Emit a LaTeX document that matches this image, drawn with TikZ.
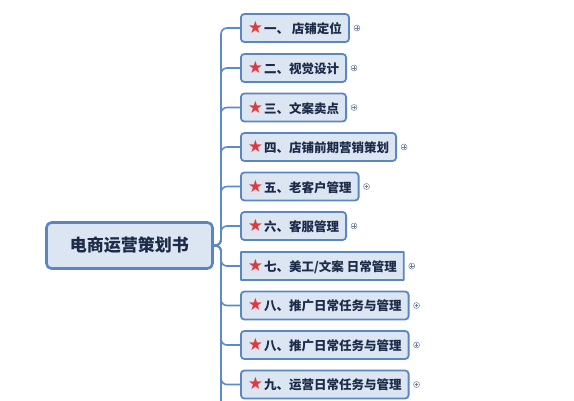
\documentclass[tikz,border=0pt]{standalone}
\usepackage{fontspec}
\newfontfamily\cjk{Noto Sans CJK SC}
\newfontfamily\dv{DejaVu Sans}
\definecolor{boxfill}{HTML}{DCE6F2}
\definecolor{boxline}{HTML}{5B87C0}
\definecolor{conncol}{HTML}{5B8CC8}
\definecolor{txtcol}{HTML}{1C2B48}
\definecolor{starred}{HTML}{E03A3E}
\definecolor{pluscol}{HTML}{6E7F99}
\tikzset{
  rootbox/.style={draw=boxline, line width=2.6pt, fill=boxfill, rounded corners=5pt,
    minimum width=166pt, minimum height=46pt, inner sep=0pt, text=txtcol,
    font=\cjk\bfseries\fontsize{17}{20}\selectfont},
  itembox/.style={draw=boxline, line width=1.8pt, fill=boxfill, rounded corners=3.5pt,
    minimum height=28pt, inner xsep=7pt, inner ysep=0pt, anchor=west, text=txtcol,
    font=\cjk\bfseries\fontsize{12.5}{14}\selectfont},
  conn/.style={draw=conncol, line width=1.6pt, rounded corners=6pt},
  plusmark/.style={circle, draw=pluscol, line width=0.5pt, minimum size=6pt, inner sep=0pt,
    path picture={\draw[pluscol, line width=0.5pt] ([xshift=-1.8pt]path picture bounding box.center) -- ([xshift=1.8pt]path picture bounding box.center)
      ([yshift=-1.8pt]path picture bounding box.center) -- ([yshift=1.8pt]path picture bounding box.center);}}
}
\newcommand{\st}{{\color{starred}\dv\fontsize{17}{14}\selectfont ★}\hspace{1pt}}
\begin{document}
\begin{tikzpicture}[x=1pt,y=-1pt]
\clip (0,0) rectangle (574,400);
\fill[white] (0,0) rectangle (574,400);
\node[rootbox] (root) at (129.5,245.5) {电商运营策划书};
\node[itembox] (b1) at (240,28) {\st 一、 店铺定位};
\node[itembox] (b2) at (240,68) {\st 二、视觉设计};
\node[itembox] (b3) at (240,107.5) {\st 三、文案卖点};
\node[itembox] (b4) at (240,147) {\st 四、店铺前期营销策划};
\node[itembox] (b5) at (240,186.5) {\st 五、老客户管理};
\node[itembox] (b6) at (240,226) {\st 六、客服管理};
\node[itembox, rounded corners=0.5pt] (b7) at (240,266) {\st 七、美工/文案 日常管理};
\node[itembox] (b8) at (240,305.5) {\st 八、推广日常任务与管理};
\node[itembox] (b9) at (240,345) {\st 八、推广日常任务与管理};
\node[itembox] (b10) at (240,384.5) {\st 九、运营日常任务与管理};
\coordinate (more) at (240,420);
\begin{scope}[on background layer/.try]
\foreach \b in {b1,b2,b3,b4,b5,b6,b7,b8,b9,b10,more}{
  \draw[conn] (root.east) -| ([xshift=-19pt]\b.west) -- (\b.west);
}
\end{scope}
\foreach \b in {b1,b2,b3,b4,b5,b6,b7,b8,b9,b10}{
  \node[plusmark] (p\b) at ([xshift=7pt]\b.east) {};
}
\end{tikzpicture}
\end{document}
